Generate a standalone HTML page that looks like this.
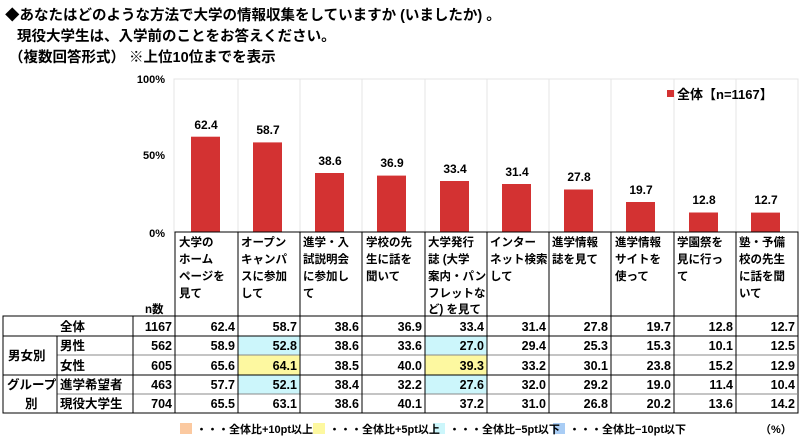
<!DOCTYPE html>
<html><head><meta charset="utf-8"><style>
body{margin:0;background:#fff;}
svg text{font-family:"Liberation Sans","Noto Sans CJK JP",sans-serif;font-weight:bold;fill:#000;}
</style></head><body>
<svg width="800" height="439" viewBox="0 0 800 439" xmlns="http://www.w3.org/2000/svg">
<text x="5" y="20" font-size="14.5">◆あなたはどのような方法で大学の情報収集をしていますか (いましたか) 。</text>
<text x="17" y="41" font-size="14.5">現役大学生は、入学前のことをお答えください。</text>
<text x="9" y="62" font-size="14.5">（複数回答形式） ※上位10位までを表示</text>
<g font-size="11" text-anchor="end"><text x="165" y="83">100%</text><text x="165" y="159">50%</text><text x="165" y="237">0%</text></g>
<rect x="174" y="79" width="624" height="153" fill="none" stroke="#e4e4e4"/>
<g stroke="#e4e4e4">
<line x1="238" y1="79" x2="238" y2="232"/><line x1="300" y1="79" x2="300" y2="232"/><line x1="362" y1="79" x2="362" y2="232"/><line x1="425" y1="79" x2="425" y2="232"/><line x1="487" y1="79" x2="487" y2="232"/><line x1="549" y1="79" x2="549" y2="232"/><line x1="611" y1="79" x2="611" y2="232"/><line x1="674" y1="79" x2="674" y2="232"/><line x1="736" y1="79" x2="736" y2="232"/>
</g>
<rect x="667" y="90" width="7" height="7" fill="#d33232"/>
<text x="677" y="99" font-size="13">全体【n=1167】</text>
<g fill="#d33232">
<rect x="191" y="136.7" width="29" height="95.3"/>
<rect x="253" y="142.4" width="29" height="89.6"/>
<rect x="315" y="173" width="29" height="59"/>
<rect x="377" y="175.6" width="29" height="56.4"/>
<rect x="440" y="181" width="29" height="51"/>
<rect x="502" y="184" width="29" height="48"/>
<rect x="564" y="189.5" width="29" height="42.5"/>
<rect x="626" y="202" width="29" height="30"/>
<rect x="689" y="212.5" width="29" height="19.5"/>
<rect x="751" y="212.6" width="29" height="19.4"/>
</g>
<g font-size="12" text-anchor="middle">
<text x="206" y="129">62.4</text><text x="268" y="134">58.7</text><text x="330" y="165">38.6</text><text x="392" y="167">36.9</text><text x="455" y="173">33.4</text><text x="517" y="176">31.4</text><text x="579" y="181">27.8</text><text x="641" y="194">19.7</text><text x="704" y="204">12.8</text><text x="766" y="204">12.7</text>
</g>
<g stroke="#000" stroke-width="1" fill="none">
<rect x="175" y="232" width="623" height="84"/>
<line x1="238" y1="232" x2="238" y2="413"/><line x1="300" y1="232" x2="300" y2="413"/><line x1="362" y1="232" x2="362" y2="413"/><line x1="425" y1="232" x2="425" y2="413"/><line x1="487" y1="232" x2="487" y2="413"/><line x1="549" y1="232" x2="549" y2="413"/><line x1="611" y1="232" x2="611" y2="413"/><line x1="674" y1="232" x2="674" y2="413"/><line x1="736" y1="232" x2="736" y2="413"/>
</g>
<rect x="238" y="336" width="62" height="19" fill="#ccf6fb"/>
<rect x="238" y="355" width="62" height="20" fill="#fdf8a0"/>
<rect x="238" y="375" width="62" height="19" fill="#ccf6fb"/>
<rect x="425" y="336" width="62" height="19" fill="#ccf6fb"/>
<rect x="425" y="355" width="62" height="20" fill="#fdf8a0"/>
<rect x="425" y="375" width="62" height="19" fill="#ccf6fb"/>
<g stroke="#000" fill="none">
<rect x="3" y="316" width="795" height="97"/>
<line x1="3" y1="336" x2="798" y2="336"/>
<line x1="57" y1="355" x2="798" y2="355" stroke="#888"/>
<line x1="3" y1="375" x2="798" y2="375"/>
<line x1="57" y1="394" x2="798" y2="394" stroke="#888"/>
<line x1="57" y1="336" x2="57" y2="413"/>
<line x1="133" y1="316" x2="133" y2="413"/>
<line x1="175" y1="316" x2="175" y2="413"/>
<line x1="238" y1="316" x2="238" y2="413"/><line x1="300" y1="316" x2="300" y2="413"/><line x1="362" y1="316" x2="362" y2="413"/><line x1="425" y1="316" x2="425" y2="413"/><line x1="487" y1="316" x2="487" y2="413"/><line x1="549" y1="316" x2="549" y2="413"/><line x1="611" y1="316" x2="611" y2="413"/><line x1="674" y1="316" x2="674" y2="413"/><line x1="736" y1="316" x2="736" y2="413"/>
</g>
<g font-size="11.5">
<text x="179" y="246">大学の</text><text x="179" y="263">ホーム</text><text x="179" y="280">ページを</text><text x="179" y="297">見て</text>
<text x="241" y="246">オープン</text><text x="241" y="263">キャンパ</text><text x="241" y="280">スに参加</text><text x="241" y="297">して</text>
<text x="303" y="246">進学・入</text><text x="303" y="263">試説明会</text><text x="303" y="280">に参加し</text><text x="303" y="297">て</text>
<text x="366" y="246">学校の先</text><text x="366" y="263">生に話を</text><text x="366" y="280">聞いて</text>
<text x="428" y="246">大学発行</text><text x="428" y="263">誌 (大学</text><text x="428" y="280">案内・パン</text><text x="428" y="297">フレットな</text><text x="428" y="313">ど) を見て</text>
<text x="490" y="246">インター</text><text x="490" y="263">ネット検索</text><text x="490" y="280">して</text>
<text x="552" y="246">進学情報</text><text x="552" y="263">誌を見て</text>
<text x="615" y="246">進学情報</text><text x="615" y="263">サイトを</text><text x="615" y="280">使って</text>
<text x="677" y="246">学園祭を</text><text x="677" y="263">見に行っ</text><text x="677" y="280">て</text>
<text x="739" y="246">塾・予備</text><text x="739" y="263">校の先生</text><text x="739" y="280">に話を聞</text><text x="739" y="297">いて</text>
<text x="145" y="313">n数</text>
</g>
<g font-size="12.5">
<text x="60" y="331">全体</text>
<text x="60" y="350">男性</text><text x="60" y="370">女性</text>
<text x="60" y="389">進学希望者</text><text x="60" y="408">現役大学生</text>
<text x="8" y="360">男女別</text>
<text x="7" y="389">グループ</text><text x="25" y="408">別</text>
</g>
<g font-size="12.5" text-anchor="end">
<text x="172" y="331">1167</text><text x="235" y="331">62.4</text><text x="297" y="331">58.7</text><text x="359" y="331">38.6</text><text x="422" y="331">36.9</text><text x="484" y="331">33.4</text><text x="546" y="331">31.4</text><text x="608" y="331">27.8</text><text x="671" y="331">19.7</text><text x="733" y="331">12.8</text><text x="795" y="331">12.7</text>
<text x="172" y="350">562</text><text x="235" y="350">58.9</text><text x="297" y="350">52.8</text><text x="359" y="350">38.6</text><text x="422" y="350">33.6</text><text x="484" y="350">27.0</text><text x="546" y="350">29.4</text><text x="608" y="350">25.3</text><text x="671" y="350">15.3</text><text x="733" y="350">10.1</text><text x="795" y="350">12.5</text>
<text x="172" y="370">605</text><text x="235" y="370">65.6</text><text x="297" y="370">64.1</text><text x="359" y="370">38.5</text><text x="422" y="370">40.0</text><text x="484" y="370">39.3</text><text x="546" y="370">33.2</text><text x="608" y="370">30.1</text><text x="671" y="370">23.8</text><text x="733" y="370">15.2</text><text x="795" y="370">12.9</text>
<text x="172" y="389">463</text><text x="235" y="389">57.7</text><text x="297" y="389">52.1</text><text x="359" y="389">38.4</text><text x="422" y="389">32.2</text><text x="484" y="389">27.6</text><text x="546" y="389">32.0</text><text x="608" y="389">29.2</text><text x="671" y="389">19.0</text><text x="733" y="389">11.4</text><text x="795" y="389">10.4</text>
<text x="172" y="408">704</text><text x="235" y="408">65.5</text><text x="297" y="408">63.1</text><text x="359" y="408">38.6</text><text x="422" y="408">40.1</text><text x="484" y="408">37.2</text><text x="546" y="408">31.0</text><text x="608" y="408">26.8</text><text x="671" y="408">20.2</text><text x="733" y="408">13.6</text><text x="795" y="408">14.2</text>
</g>
<rect x="180" y="423" width="12" height="11" fill="#fbc9a0"/>
<rect x="313" y="423" width="12" height="11" fill="#fdf8a0"/>
<rect x="433" y="423" width="12" height="11" fill="#ccf6fb"/>
<rect x="553" y="423" width="12" height="11" fill="#a9cdf5"/>
<g font-size="11">
<text x="196" y="433">・・・全体比+10pt以上</text>
<text x="329" y="433">・・・全体比+5pt以上</text>
<text x="449" y="433">・・・全体比−5pt以下</text>
<text x="569" y="433">・・・全体比−10pt以下</text>
<text x="760" y="433">（%）</text>
</g>
</svg>
</body></html>
